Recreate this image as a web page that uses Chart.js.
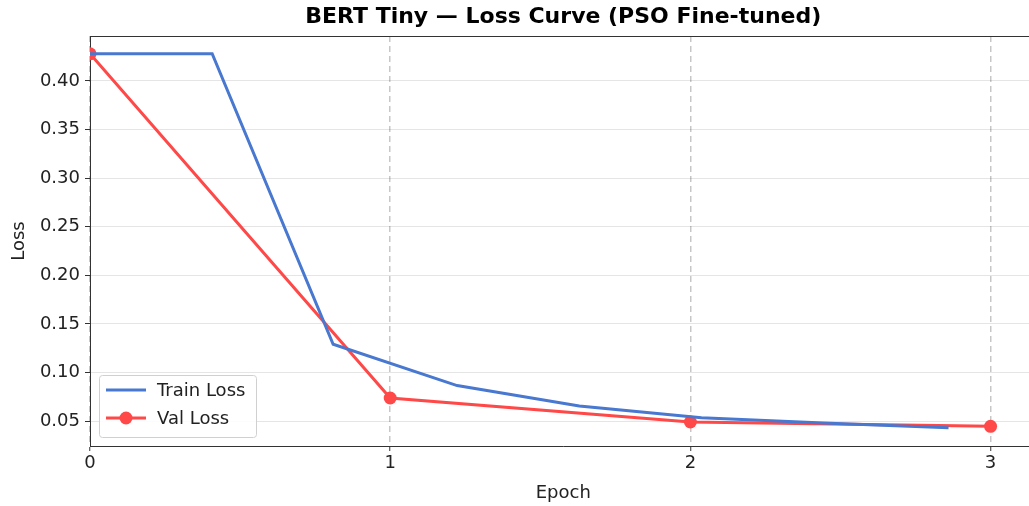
<!DOCTYPE html>
<html>
<head>
<meta charset="utf-8">
<script src="https://cdn.jsdelivr.net/npm/chart.js@4"></script>
<style>
  html, body { margin: 0; padding: 0; background: #fff; overflow: hidden; }
  /* the plot runs a few px past the right edge of the picture, like the original */
  #clip { width: 1029px; height: 506px; overflow: hidden; }
  #wrap { width: 1043px; height: 506px; }
</style>
</head>
<body>
<div id="clip"><div id="wrap"><canvas id="lossChart"></canvas></div></div>
<script>
// values
const trainEpochs = [0, 0.407, 0.81, 1.223, 1.63, 2.037, 2.443, 2.86];
const trainLoss = [0.428, 0.428, 0.129, 0.0865, 0.0655, 0.0535, 0.048, 0.043];
const valEpochs = [0, 1, 2, 3];
const valLoss = [0.428, 0.0737, 0.049, 0.0445];
const xTicks = [0, 1, 2, 3];
const yTicks = [0.05, 0.10, 0.15, 0.20, 0.25, 0.30, 0.35, 0.40];
const chartTitle = 'BERT Tiny — Loss Curve (PSO Fine-tuned)';

const FONT = "'DejaVu Sans', sans-serif";

function pts(xs, ys) {
    return xs.map((x, i) => ({x: x, y: ys[i]}));
}

// title centred on the axes, top/right spines, legend box inside the plot
const framePlugin = {
    id: 'frame',
    afterDraw(chart) {
        const ctx = chart.ctx;
        const a = chart.chartArea;
        ctx.save();
        ctx.strokeStyle = '#333';
        ctx.lineWidth = 1;
        ctx.setLineDash([]);
        ctx.beginPath();
        ctx.moveTo(a.left, a.top + 0.5);
        ctx.lineTo(a.right - 0.5, a.top + 0.5);
        ctx.lineTo(a.right - 0.5, a.bottom);
        ctx.stroke();

        ctx.fillStyle = '#000';
        ctx.font = 'bold 22px ' + FONT;
        ctx.textAlign = 'center';
        ctx.textBaseline = 'middle';
        ctx.fillText(chartTitle, (a.left + a.right) / 2, 17);

        // legend
        const bx = a.left + 9, by = a.bottom - 71, bw = 157, bh = 62;
        ctx.fillStyle = 'rgba(255,255,255,0.85)';
        ctx.strokeStyle = '#d0d0d0';
        ctx.beginPath();
        ctx.roundRect(bx + 0.5, by + 0.5, bw, bh, 3);
        ctx.fill();
        ctx.stroke();
        ctx.font = '18px ' + FONT;
        ctx.textAlign = 'left';
        ctx.textBaseline = 'middle';
        chart.data.datasets.forEach((ds, i) => {
            const y = by + 15 + i * 28;
            ctx.strokeStyle = ds.borderColor;
            ctx.lineWidth = ds.borderWidth;
            ctx.beginPath();
            ctx.moveTo(bx + 7, y);
            ctx.lineTo(bx + 47, y);
            ctx.stroke();
            if (ds.pointRadius > 0) {
                ctx.fillStyle = ds.pointBackgroundColor;
                ctx.beginPath();
                ctx.arc(bx + 27, y, ds.pointRadius, 0, Math.PI * 2);
                ctx.fill();
            }
            ctx.fillStyle = '#222';
            ctx.fillText(ds.label, bx + 58, y + 1);
        });
        ctx.restore();
    }
};

const canv = document.getElementById('lossChart').getContext('2d');
const chart = new Chart(canv, {
    type: 'line',
    data: {
        datasets: [{
            label: 'Train Loss',
            data: pts(trainEpochs, trainLoss),
            borderColor: 'rgb(72, 120, 207)',
            borderWidth: 3,
            pointRadius: 0,
            fill: false,
            tension: 0
        }, {
            label: 'Val Loss',
            data: pts(valEpochs, valLoss),
            borderColor: 'rgb(255, 72, 72)',
            backgroundColor: 'rgb(255, 72, 72)',
            pointBackgroundColor: 'rgb(255, 72, 72)',
            pointBorderWidth: 0,
            borderWidth: 3,
            pointRadius: 6.5,
            fill: false,
            tension: 0
        }]
    },
    options: {
        animation: false,
        responsive: true,
        maintainAspectRatio: false,
        layout: {
            padding: {left: 0, right: 1, top: 36, bottom: 0}
        },
        plugins: {
            legend: {display: false},
            tooltip: {enabled: false},
            title: {display: false}
        },
        scales: {
            x: {
                type: 'linear',
                min: 0,
                max: 3.153,
                afterBuildTicks: (s) => { s.ticks = xTicks.map(v => ({value: v})); },
                afterFit: (s) => { s.height = 60; },
                ticks: {
                    color: '#222',
                    font: {family: FONT, size: 18},
                    padding: 2,
                    maxRotation: 0,
                    callback: (v) => String(v)
                },
                grid: {
                    color: 'rgba(0,0,0,0.22)',
                    lineWidth: 1.5,
                    tickLength: 5,
                    tickColor: '#333',
                    tickWidth: 1,
                    tickBorderDash: []
                },
                border: {color: '#333', width: 1, dash: [6, 4]},
                title: {
                    display: true,
                    text: 'Epoch',
                    color: '#222',
                    font: {family: FONT, size: 18},
                    padding: {top: 2, bottom: 2}
                }
            },
            y: {
                type: 'linear',
                min: 0.0243,
                max: 0.4463,
                afterBuildTicks: (s) => { s.ticks = yTicks.map(v => ({value: v})); },
                afterFit: (s) => { s.width = 90; },
                ticks: {
                    color: '#222',
                    font: {family: FONT, size: 18},
                    padding: 5,
                    callback: (v) => v.toFixed(2)
                },
                grid: {
                    color: 'rgba(0,0,0,0.1)',
                    lineWidth: 1,
                    tickLength: 5,
                    tickColor: '#333',
                    tickWidth: 1
                },
                border: {color: '#333', width: 1},
                title: {
                    display: true,
                    text: 'Loss',
                    color: '#222',
                    font: {family: FONT, size: 18},
                    padding: {top: 9, bottom: 2}
                }
            }
        }
    },
    plugins: [framePlugin]
});
</script>
</body>
</html>
